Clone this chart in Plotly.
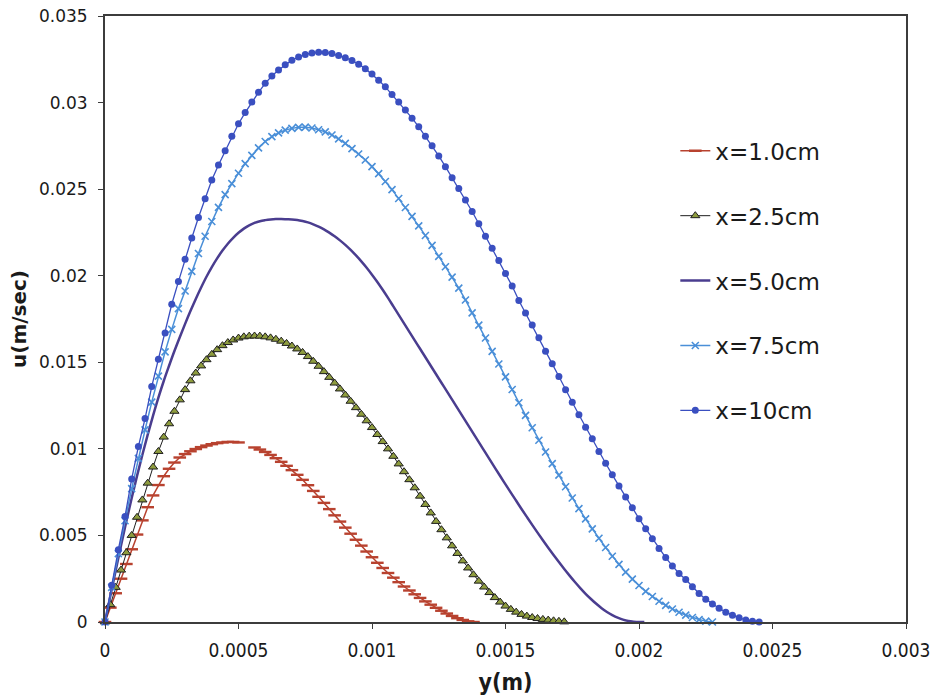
import plotly.graph_objects as go

# Boundary-layer velocity profiles u(y) at several streamwise stations x.
# Wall distance y is tabulated in mm, velocity u in mm/s; both are
# converted to SI units (m, m/s) when the traces are built.

# ---- x = 1.0 cm (one sample missing around y = 0.52 mm) ----
y_x10mm = [0, 0.02, 0.04, 0.06, 0.08, 0.10, 0.12, 0.14, 0.16, 0.18,
           0.20, 0.22, 0.24, 0.26, 0.28, 0.30, 0.32, 0.34, 0.36, 0.38,
           0.40, 0.42, 0.44, 0.46, 0.48, 0.50, None,
           0.56, 0.58, 0.60, 0.62, 0.64, 0.66, 0.68, 0.70, 0.72, 0.74,
           0.76, 0.78, 0.80, 0.82, 0.84, 0.86, 0.88, 0.90, 0.92, 0.94,
           0.96, 0.98, 1.00, 1.02, 1.04, 1.06, 1.08, 1.10, 1.12, 1.14,
           1.16, 1.18, 1.20, 1.22, 1.24, 1.26, 1.28, 1.30, 1.32, 1.34,
           1.36, 1.38]
u_x10mm = [0, 0.83, 1.66, 2.50, 3.35, 4.20, 5.05, 5.87, 6.63, 7.31,
           7.91, 8.42, 8.85, 9.21, 9.50, 9.70, 9.86, 9.99, 10.10, 10.19,
           10.27, 10.33, 10.37, 10.40, 10.40, 10.37, None,
           10.08, 9.96, 9.82, 9.65, 9.46, 9.25, 9.02, 8.77, 8.50, 8.21,
           7.90, 7.57, 7.23, 6.88, 6.52, 6.16, 5.80, 5.45, 5.10, 4.75,
           4.41, 4.07, 3.74, 3.42, 3.12, 2.83, 2.56, 2.30, 2.05, 1.82,
           1.60, 1.39, 1.19, 1.00, 0.82, 0.65, 0.49, 0.35, 0.22, 0.12,
           0.04, 0.00]

# ---- x = 2.5 cm ----
y_x25mm = [0, 0.02, 0.04, 0.06, 0.08, 0.10, 0.12, 0.14, 0.16, 0.18,
           0.20, 0.22, 0.24, 0.26, 0.28, 0.30, 0.32, 0.34, 0.36, 0.38,
           0.40, 0.42, 0.44, 0.46, 0.48, 0.50, 0.52, 0.54, 0.56, 0.58,
           0.60, 0.62, 0.64, 0.66, 0.68, 0.70, 0.72, 0.74, 0.76, 0.78,
           0.80, 0.82, 0.84, 0.86, 0.88, 0.90, 0.92, 0.94, 0.96, 0.98,
           1.00, 1.02, 1.04, 1.06, 1.08, 1.10, 1.12, 1.14, 1.16, 1.18,
           1.20, 1.22, 1.24, 1.26, 1.28, 1.30, 1.32, 1.34, 1.36, 1.38,
           1.40, 1.42, 1.44, 1.46, 1.48, 1.50, 1.52, 1.54, 1.56, 1.58,
           1.60, 1.62, 1.64, 1.66, 1.68, 1.70, 1.72]
u_x25mm = [0, 1.00, 2.00, 3.00, 4.00, 5.00, 6.05, 7.05, 8.02, 8.95,
           9.85, 10.68, 11.45, 12.17, 12.83, 13.42, 13.93, 14.38, 14.79, 15.15,
           15.46, 15.73, 15.96, 16.14, 16.29, 16.40, 16.47, 16.51, 16.52, 16.51,
           16.47, 16.41, 16.33, 16.22, 16.09, 15.94, 15.77, 15.57, 15.33, 15.06,
           14.77, 14.46, 14.13, 13.80, 13.46, 13.11, 12.75, 12.38, 12.00, 11.62,
           11.23, 10.83, 10.42, 10.00, 9.57, 9.13, 8.68, 8.22, 7.75, 7.27,
           6.79, 6.30, 5.81, 5.33, 4.86, 4.40, 3.96, 3.53, 3.12, 2.73,
           2.36, 2.02, 1.70, 1.41, 1.15, 0.92, 0.73, 0.57, 0.44, 0.34,
           0.26, 0.20, 0.15, 0.11, 0.07, 0.04, 0.01]

# ---- x = 5.0 cm ----
y_x50mm = [0, 0.02, 0.04, 0.06, 0.08, 0.10, 0.12, 0.14, 0.16, 0.18,
           0.20, 0.22, 0.24, 0.26, 0.28, 0.30, 0.32, 0.34, 0.36, 0.38,
           0.40, 0.42, 0.44, 0.46, 0.48, 0.50, 0.52, 0.54, 0.56, 0.58,
           0.60, 0.62, 0.64, 0.66, 0.68, 0.70, 0.72, 0.74, 0.76, 0.78,
           0.80, 0.82, 0.84, 0.86, 0.88, 0.90, 0.92, 0.94, 0.96, 0.98,
           1.00, 1.02, 1.04, 1.06, 1.08, 1.10, 1.12, 1.14, 1.16, 1.18,
           1.20, 1.22, 1.24, 1.26, 1.28, 1.30, 1.32, 1.34, 1.36, 1.38,
           1.40, 1.42, 1.44, 1.46, 1.48, 1.50, 1.52, 1.54, 1.56, 1.58,
           1.60, 1.62, 1.64, 1.66, 1.68, 1.70, 1.72, 1.74, 1.76, 1.78,
           1.80, 1.82, 1.84, 1.86, 1.88, 1.90, 1.92, 1.94, 1.96, 1.98,
           2.00, 2.02]
u_x50mm = [0, 1.50, 2.98, 4.42, 5.82, 7.16, 8.44, 9.66, 10.82, 11.92,
           12.96, 13.92, 14.80, 15.65, 16.45, 17.22, 17.96, 18.66, 19.32, 19.94,
           20.50, 21.00, 21.45, 21.85, 22.19, 22.48, 22.72, 22.91, 23.05, 23.15,
           23.21, 23.25, 23.27, 23.27, 23.26, 23.25, 23.22, 23.16, 23.08, 22.97,
           22.84, 22.68, 22.49, 22.28, 22.04, 21.78, 21.49, 21.17, 20.83, 20.46,
           20.06, 19.64, 19.19, 18.72, 18.23, 17.74, 17.25, 16.76, 16.27, 15.78,
           15.29, 14.80, 14.31, 13.82, 13.33, 12.84, 12.35, 11.86, 11.37, 10.88,
           10.39, 9.90, 9.41, 8.92, 8.43, 7.95, 7.47, 7.00, 6.53, 6.07,
           5.61, 5.16, 4.72, 4.29, 3.87, 3.46, 3.06, 2.68, 2.31, 1.96,
           1.63, 1.33, 1.05, 0.80, 0.58, 0.40, 0.25, 0.14, 0.06, 0.02,
           0.00, 0.00]

# ---- x = 7.5 cm ----
y_x75mm = [0, 0.025, 0.05, 0.075, 0.1, 0.125, 0.15, 0.175, 0.2, 0.225,
           0.25, 0.275, 0.3, 0.325, 0.35, 0.375, 0.4, 0.425, 0.45, 0.475,
           0.5, 0.525, 0.55, 0.575, 0.6, 0.625, 0.65, 0.675, 0.7, 0.725,
           0.75, 0.775, 0.8, 0.825, 0.85, 0.875, 0.9, 0.925, 0.95, 0.975,
           1.0, 1.025, 1.05, 1.075, 1.1, 1.125, 1.15, 1.175, 1.2, 1.225,
           1.25, 1.275, 1.3, 1.325, 1.35, 1.375, 1.4, 1.425, 1.45, 1.475,
           1.5, 1.525, 1.55, 1.575, 1.6, 1.625, 1.65, 1.675, 1.7, 1.725,
           1.75, 1.775, 1.8, 1.825, 1.85, 1.875, 1.9, 1.925, 1.95, 1.975,
           2.0, 2.025, 2.05, 2.075, 2.1, 2.125, 2.15, 2.175, 2.2, 2.225,
           2.25, 2.275]
u_x75mm = [0, 2.00, 3.95, 5.85, 7.70, 9.45, 11.10, 12.70, 14.20, 15.60,
           16.90, 18.10, 19.12, 20.25, 21.28, 22.28, 23.13, 23.95, 24.68, 25.32,
           25.92, 26.47, 26.95, 27.38, 27.75, 28.03, 28.25, 28.41, 28.51, 28.57,
           28.58, 28.53, 28.43, 28.31, 28.13, 27.90, 27.64, 27.34, 27.03, 26.68,
           26.30, 25.90, 25.44, 24.97, 24.46, 23.94, 23.43, 22.88, 22.32, 21.75,
           21.12, 20.52, 19.92, 19.28, 18.60, 17.85, 17.15, 16.40, 15.63, 14.90,
           14.16, 13.43, 12.66, 11.93, 11.22, 10.50, 9.82, 9.15, 8.48, 7.81,
           7.16, 6.55, 5.96, 5.38, 4.84, 4.30, 3.80, 3.33, 2.88, 2.48,
           2.11, 1.77, 1.47, 1.20, 0.96, 0.75, 0.56, 0.40, 0.26, 0.14,
           0.05, 0.00]

# ---- x = 10 cm ----
y_x100mm = [0, 0.025, 0.05, 0.075, 0.1, 0.125, 0.15, 0.175, 0.2, 0.225,
            0.25, 0.275, 0.3, 0.325, 0.35, 0.375, 0.4, 0.425, 0.45, 0.475,
            0.5, 0.525, 0.55, 0.575, 0.6, 0.625, 0.65, 0.675, 0.7, 0.725,
            0.75, 0.775, 0.8, 0.825, 0.85, 0.875, 0.9, 0.925, 0.95, 0.975,
            1.0, 1.025, 1.05, 1.075, 1.1, 1.125, 1.15, 1.175, 1.2, 1.225,
            1.25, 1.275, 1.3, 1.325, 1.35, 1.375, 1.4, 1.425, 1.45, 1.475,
            1.5, 1.525, 1.55, 1.575, 1.6, 1.625, 1.65, 1.675, 1.7, 1.725,
            1.75, 1.775, 1.8, 1.825, 1.85, 1.875, 1.9, 1.925, 1.95, 1.975,
            2.0, 2.025, 2.05, 2.075, 2.1, 2.125, 2.15, 2.175, 2.2, 2.225,
            2.25, 2.275, 2.3, 2.325, 2.35, 2.375, 2.4, 2.425, 2.45]
u_x100mm = [0, 2.12, 4.18, 6.10, 8.26, 10.13, 11.75, 13.60, 15.18, 16.69,
            18.35, 19.66, 20.95, 22.18, 23.36, 24.44, 25.53, 26.40, 27.22, 28.06,
            28.78, 29.42, 30.03, 30.59, 31.11, 31.53, 31.88, 32.19, 32.45, 32.63,
            32.78, 32.87, 32.90, 32.89, 32.83, 32.72, 32.59, 32.43, 32.22, 31.96,
            31.65, 31.29, 30.91, 30.46, 30.04, 29.57, 29.10, 28.60, 28.06, 27.51,
            26.92, 26.30, 25.66, 25.03, 24.38, 23.71, 23.00, 22.28, 21.58, 20.88,
            20.13, 19.40, 18.57, 17.85, 17.16, 16.41, 15.64, 14.91, 14.18, 13.41,
            12.69, 11.97, 11.25, 10.58, 9.85, 9.17, 8.50, 7.85, 7.22, 6.60,
            5.97, 5.39, 4.81, 4.24, 3.72, 3.24, 2.80, 2.45, 2.03, 1.65,
            1.32, 1.04, 0.79, 0.57, 0.39, 0.24, 0.12, 0.04, 0.00]

station_names = ["x=1.0cm", "x=2.5cm", "x=5.0cm", "x=7.5cm", "x=10cm"]
station_y = [y_x10mm, y_x25mm, y_x50mm, y_x75mm, y_x100mm]
station_u = [u_x10mm, u_x25mm, u_x50mm, u_x75mm, u_x100mm]

x_tick_vals = [0, 0.0005, 0.001, 0.0015, 0.002, 0.0025, 0.003]
x_tick_text = ["0", "0.0005", "0.001", "0.0015", "0.002", "0.0025", "0.003"]
y_tick_vals = [0, 0.005, 0.01, 0.015, 0.02, 0.025, 0.03, 0.035]
y_tick_text = ["0", "0.005", "0.01", "0.015", "0.02", "0.025", "0.03", "0.035"]

# trace styling, in the same order as the stations
styles = [
    dict(mode="lines+markers",
         line=dict(color="#B8422F", width=1.5),
         marker=dict(symbol="line-ew", size=9, color="#B8422F",
                     line=dict(color="#B8422F", width=2.4))),
    dict(mode="lines+markers",
         line=dict(color="#1E1E1E", width=1),
         marker=dict(symbol="triangle-up", size=8, color="#8E9C3E",
                     line=dict(color="#1E1E1E", width=1))),
    dict(mode="lines",
         line=dict(color="#4A3D8F", width=2.5, shape="spline")),
    dict(mode="lines+markers",
         line=dict(color="#4A8FD8", width=1.5),
         marker=dict(symbol="x-thin", size=7, color="#4A8FD8",
                     line=dict(color="#4A8FD8", width=1.6))),
    dict(mode="lines+markers",
         line=dict(color="#3A4FC0", width=1.3),
         marker=dict(symbol="circle", size=7, color="#3A4FC0")),
]


def to_si(values):
    return [None if v is None else v / 1000.0 for v in values]


fig = go.Figure()
for i, (name, ys, us, st) in enumerate(zip(station_names, station_y,
                                          station_u, styles)):
    fig.add_trace(go.Scatter(x=to_si(ys), y=to_si(us), name=name,
                             legendgroup=f"g{i}", cliponaxis=False,
                             connectgaps=False, **st))

axis_line = dict(showline=True, linecolor="#3C3C3C", linewidth=2,
                 mirror=True, ticks="outside", ticklen=5,
                 tickcolor="#3C3C3C", tickwidth=1, showgrid=False,
                 zeroline=False, automargin=False)

fig.update_layout(
    width=936, height=698,
    margin=dict(l=105, r=30, t=16, b=76),
    paper_bgcolor="white", plot_bgcolor="white",
    showlegend=True,
    legend=dict(x=0.712, y=0.813, xanchor="left", yanchor="top",
                font=dict(family="DejaVu Sans", size=23, color="#1A1A1A"),
                tracegroupgap=32, itemwidth=30, bgcolor="rgba(0,0,0,0)"),
    xaxis=dict(range=[0, 0.003], tickvals=x_tick_vals, ticktext=x_tick_text,
               tickfont=dict(family="Liberation Sans Narrow, DejaVu Sans Condensed, sans-serif",
                             size=19, color="#1A1A1A"),
               ticklabelstandoff=5,
               title=dict(text="<b>y(m)</b>", standoff=14,
                          font=dict(family="Liberation Sans Narrow, DejaVu Sans Condensed, sans-serif",
                                    size=23, color="#1A1A1A")),
               **axis_line),
    yaxis=dict(range=[0, 0.035], tickvals=y_tick_vals, ticktext=y_tick_text,
               tickfont=dict(family="DejaVu Sans", size=17, color="#1A1A1A"),
               ticklabelstandoff=7,
               title=dict(text="<b>u(m/sec)</b>", standoff=7,
                          font=dict(family="DejaVu Sans", size=20,
                                    color="#1A1A1A")),
               **axis_line),
)

fig.write_html("out.html")
